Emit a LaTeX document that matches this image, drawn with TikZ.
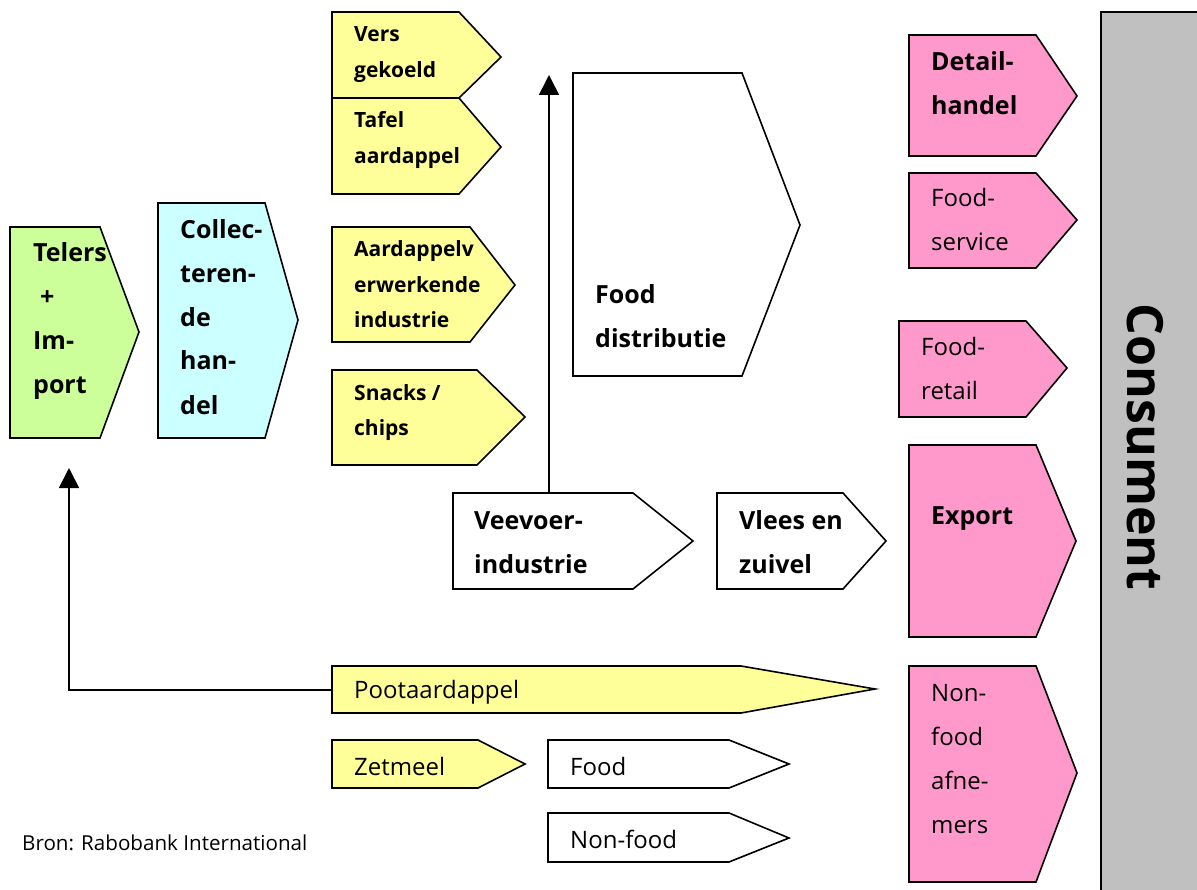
\documentclass[tikz,border=0pt]{standalone}
\usepackage{fontspec}
\setmainfont{Open Sans}
\usetikzlibrary{arrows.meta}
\definecolor{cgreen}{HTML}{CCFF99}
\definecolor{ccyan}{HTML}{CCFFFF}
\definecolor{cyellow}{HTML}{FFFF99}
\definecolor{cpink}{HTML}{FF99CC}
\definecolor{cgray}{HTML}{C0C0C0}
\newcommand\pentshape[7]{\draw[shapeline,#1] (#2,#3) -- (#5,#3) -- (#6,#7) -- (#5,#4) -- (#2,#4) -- cycle;}
\begin{document}
\begin{tikzpicture}[x=1pt,y=-1pt,
  shapeline/.style={draw=black,line width=1.6pt,line join=miter},
  lbl/.style={anchor=base west,inner sep=0pt,align=left},
  bigb/.style={lbl,font=\fontsize{25}{44}\selectfont\bfseries},
  bigr/.style={lbl,font=\fontsize{24}{44}\selectfont},
  smallb/.style={lbl,font=\fontsize{21}{35.5}\selectfont\bfseries},
  arr/.style={line width=1.6pt,-{Triangle[width=20pt,length=20pt]}}]
\useasboundingbox (0,0) rectangle (1197,890);
% consument bar
\draw[shapeline,fill=cgray] (1101,12) rectangle (1210,900);
\node[font=\fontsize{50}{50}\selectfont\bfseries,rotate=-90,inner sep=0pt] (cons) at (1145,447) {Consument};
% left chain
\pentshape{fill=cgreen}{10}{227}{438}{100}{139}{332}
\pentshape{fill=ccyan}{158}{203}{438}{265}{298}{320}
% (base anchor = baseline of the last line)
\node[bigb] (telers) at (33,394) {Telers\\\hspace{7pt}+\\Im-\\port};
\node[bigb] (coll) at (180,414) {Collec-\\teren-\\de\\han-\\del};
% yellow products
\pentshape{fill=cyellow}{332}{12}{98}{459}{501}{57}
\pentshape{fill=cyellow}{332}{98}{194}{459}{501}{147}
\pentshape{fill=cyellow}{332}{227}{342}{470}{515}{285}
\pentshape{fill=cyellow}{332}{370}{465}{477}{525}{417}
\node[smallb] (vers) at (354,77.5) {Vers\\gekoeld};
\node[smallb] (tafel) at (354,163.5) {Tafel\\aardappel};
\node[smallb] (aardv) at (354,328) {Aardappelv\\erwerkende\\industrie};
\node[smallb] (snacks) at (354,435.5) {Snacks /\\chips};
% food distributie
\pentshape{fill=white}{573}{73}{376}{742}{800}{225}
\node[bigb] (fooddist) at (595,348) {Food\\distributie};
% veevoer, vlees
\pentshape{fill=white}{453}{493}{589}{633}{693}{541}
\pentshape{fill=white}{717}{493}{589}{843}{886}{541}
\node[bigb] (veevoer) at (474,573) {Veevoer-\\industrie};
\node[bigb] (vlees) at (739,573) {Vlees en\\zuivel};
% pink outlets
\pentshape{fill=cpink}{909}{35}{156}{1036}{1077}{96}
\pentshape{fill=cpink}{909}{173}{268}{1036}{1077}{220}
\pentshape{fill=cpink}{899}{321}{417}{1026}{1067}{368}
\pentshape{fill=cpink}{909}{445}{637}{1036}{1076}{541}
\pentshape{fill=cpink}{909}{666}{882}{1036}{1077}{773}
\node[bigb] (detail) at (931,115) {Detail-\\handel};
\node[bigr] (fservice) at (931,251) {Food-\\service};
\node[bigr] (fretail) at (921,400) {Food-\\retail};
\node[bigb] (export) at (931,524) {Export};
\node[bigr] (nfafn) at (931,833) {Non-\\food\\afne-\\mers};
% bottom rows
\pentshape{fill=cyellow}{332}{666}{713}{741}{875}{689}
\pentshape{fill=cyellow}{332}{740}{788}{478}{525}{764}
\pentshape{fill=white}{548}{740}{788}{729}{789}{764}
\pentshape{fill=white}{548}{813}{862}{729}{789}{838}
\node[lbl,font=\fontsize{24}{24}\selectfont] (poot) at (354,698) {Pootaardappel};
\node[bigr] (zetmeel) at (354,775) {Zetmeel};
\node[bigr] (food) at (570,775) {Food};
\node[bigr] (nonfood) at (570,848) {Non-food};
\node[lbl,font=\fontsize{20.6}{20.6}\selectfont] (bron) at (22,850) {Bron: Rabobank International};
% connectors
\coordinate (veeTop) at (549,493);
\coordinate (distTip) at (549,75);
\coordinate (pootLeft) at (332,690);
\coordinate (telersTip) at (69,468);
\draw[arr] (veeTop) -- (distTip);
\draw[arr] (pootLeft) -| (telersTip);
\end{tikzpicture}
\end{document}
